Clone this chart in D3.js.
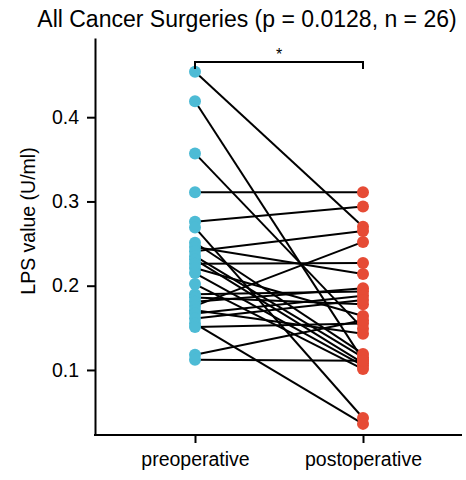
<!DOCTYPE html>
<html lang="en">
	<head>
		<meta charset="utf-8">
		<title>LPS paired plot</title>
		<script type="text/javascript" src="https://cdn.jsdelivr.net/npm/d3@7"></script>
		<style type="text/css">
			* {
				margin: 0;
				padding: 0;
			}
			body {
				background-color: white;
				font-family: "Liberation Sans", Arial, Helvetica, sans-serif;
			}
			svg {
				display: block;
			}
			.axis path,
			.axis line {
				stroke: black;
				stroke-width: 2;
			}
			.axis text {
				font-family: "Liberation Sans", Arial, sans-serif;
				font-size: 19.5px;
				fill: black;
			}
		</style>
	</head>
	<body>
		<script type="text/javascript">

			//Width and height
			var w = 466;
			var h = 480;

			//groups on the x axis
			var groups = ["preoperative", "postoperative"];

			//LPS values (U/ml), one entry per patient, same order in both arrays
			var preValues = [0.454, 0.419, 0.357, 0.311, 0.276, 0.269, 0.251, 0.246, 0.241,
				0.235, 0.231, 0.226, 0.221, 0.215, 0.202, 0.190, 0.186, 0.181, 0.176,
				0.171, 0.167, 0.161, 0.155, 0.151, 0.118, 0.112];
			var postValues = [0.270, 0.112, 0.149, 0.311, 0.294, 0.043, 0.119, 0.214, 0.265,
				0.115, 0.108, 0.227, 0.164, 0.105, 0.101, 0.193, 0.178, 0.197, 0.252,
				0.143, 0.188, 0.183, 0.036, 0.155, 0.159, 0.111];

			var yTicks = [0.1, 0.2, 0.3, 0.4];
			var title = "All Cancer Surgeries (p = 0.0128, n = 26)";
			var yLabel = "LPS value (U/ml)";
			var sigLabel = "*";

			var colours = {"preoperative": "#4DBBD5", "postoperative": "#E64B35"};

			var svg = d3.select("body")
				.append("svg")
				.attr("width", w)
				.attr("height", h);

			//panel edges (note: "top" is taken by window.top)
			var padLeft = 95, padRight = 462, padTop = 38, padBottom = 435;

			var xScale = d3.scalePoint()
				.domain(groups)
				.range([195, 363]);

			var yScale = d3.scaleLinear()
				.domain([0.0228, 0.494])
				.range([padBottom, padTop]);

			//axes
			var yAxis = d3.axisLeft(yScale)
				.tickValues(yTicks)
				.tickFormat(d3.format(".1f"))
				.tickSize(8)
				.tickPadding(8)
				.tickSizeOuter(0);

			var xAxis = d3.axisBottom(xScale)
				.tickSize(8)
				.tickPadding(9)
				.tickSizeOuter(0);

			svg.append("g")
				.attr("class", "axis")
				.attr("transform", "translate(" + padLeft + ",0)")
				.call(yAxis);

			var xg = svg.append("g")
				.attr("class", "axis")
				.attr("transform", "translate(0," + padBottom + ")")
				.call(xAxis);
			//stretch the x axis line across the whole panel
			xg.select(".domain").attr("d", "M" + (padLeft - 1) + ",0H" + padRight);

			//pairs
			var pairs = preValues.map(function(v, i) {
				return {pre: v, post: postValues[i]};
			});

			svg.append("g")
				.selectAll("line")
				.data(pairs)
				.enter()
				.append("line")
				.attr("x1", xScale("preoperative"))
				.attr("x2", xScale("postoperative"))
				.attr("y1", function(d) { return yScale(d.pre); })
				.attr("y2", function(d) { return yScale(d.post); })
				.attr("stroke", "black")
				.attr("stroke-width", 2);

			//points
			var points = [];
			pairs.forEach(function(d) {
				points.push({group: "preoperative", value: d.pre});
				points.push({group: "postoperative", value: d.post});
			});

			svg.append("g")
				.selectAll("circle")
				.data(points)
				.enter()
				.append("circle")
				.attr("cx", function(d) { return xScale(d.group); })
				.attr("cy", function(d) { return yScale(d.value); })
				.attr("r", 6)
				.attr("fill", function(d) { return colours[d.group]; });

			//significance bracket
			var by = 62;
			var x1 = xScale("preoperative"), x2 = xScale("postoperative");
			svg.append("path")
				.attr("d", "M" + x1 + "," + (by + 7) + "V" + by + "H" + x2 + "V" + (by + 7))
				.attr("fill", "none")
				.attr("stroke", "black")
				.attr("stroke-width", 2);

			svg.append("text")
				.attr("x", (x1 + x2) / 2)
				.attr("y", by - 2)
				.attr("text-anchor", "middle")
				.style("font-size", "16px")
				.text(sigLabel);

			//title
			svg.append("text")
				.attr("x", 247)
				.attr("y", 27)
				.attr("text-anchor", "middle")
				.style("font-size", "23px")
				.text(title);

			//y axis label
			svg.append("text")
				.attr("transform", "translate(35,221) rotate(-90)")
				.attr("text-anchor", "middle")
				.style("font-size", "19.5px")
				.text(yLabel);

		</script>
	</body>
</html>
